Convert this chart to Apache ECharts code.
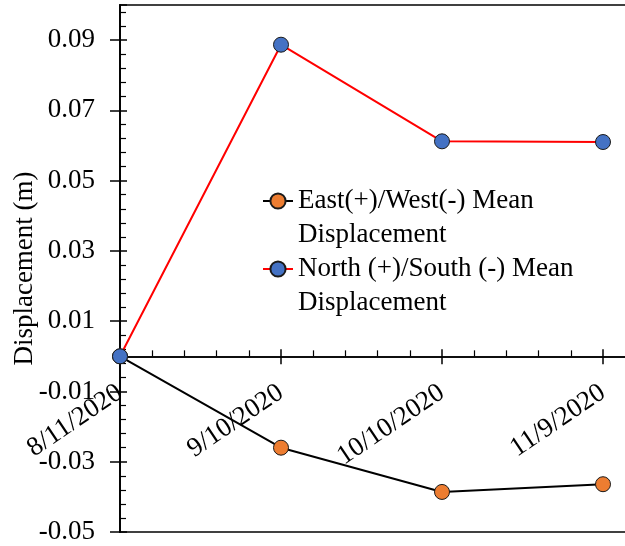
<!DOCTYPE html>
<html>
<head>
<meta charset="utf-8">
<script src="https://cdn.jsdelivr.net/npm/echarts@6/dist/echarts.min.js"></script>
<style>
  html, body { margin: 0; padding: 0; background: #fff; }
  #chart { width: 625px; height: 546px; }
</style>
</head>
<body>
<div id="chart"></div>
<script>
// Survey dates and mean displacements (m)
const dates = ['8/11/2020', '9/10/2020', '10/10/2020', '11/9/2020'];
const eastWest = [0, -0.026, -0.0386, -0.0364];
const northSouth = [0, 0.0887, 0.0612, 0.0610];
const seriesNames = [
  'East(+)/West(-) Mean\nDisplacement',
  'North (+)/South (-) Mean\nDisplacement'
];
const yTitle = 'Displacement (m)';

// Days elapsed since the first survey, used as the x position of each date
function parseDate(s) {
  const [m, d, y] = s.split('/').map(Number);
  return Date.UTC(y, m - 1, d);
}
const t0 = parseDate(dates[0]);
const dayOffsets = dates.map(s => Math.round((parseDate(s) - t0) / 86400000));
const labelFor = {};
dayOffsets.forEach((d, i) => { labelFor[d] = dates[i]; });

const FONT = 'Liberation Serif';
const FS = 27;
const LH = 34;
const Y_MIN = -0.05;

const chart = echarts.init(document.getElementById('chart'));

const xCommon = {
  type: 'value',
  min: 0,
  max: 120,
  interval: 30,
  position: 'bottom',
  splitLine: { show: false }
};
const yCommon = {
  type: 'value',
  min: Y_MIN,
  max: 0.1,
  interval: 0.02,
  position: 'left',
  splitLine: { show: false },
  axisLine: { onZero: false, lineStyle: { color: '#000', width: 1.5 } }
};

const legendCommon = {
  left: 262,
  padding: 0,
  itemWidth: 30,
  itemHeight: 19,
  // leading blank line keeps the marker level with the first text line
  formatter: n => '\n' + n,
  textStyle: { fontFamily: FONT, fontSize: FS, color: '#000', lineHeight: LH }
};

chart.setOption({
  animation: false,
  backgroundColor: '#fff',
  grid: {
    left: 120,
    right: -139,
    top: 5,
    bottom: 14,
    containLabel: false,
    outerBoundsMode: 'none',
    show: true,
    borderColor: '#404040',
    borderWidth: 2,
    backgroundColor: 'transparent'
  },
  legend: [
    Object.assign({}, legendCommon, { data: [seriesNames[0]], top: 150 }),
    Object.assign({}, legendCommon, { data: [seriesNames[1]], top: 218 })
  ],
  xAxis: [
    // axis line through y = 0 with outward major ticks
    Object.assign({}, xCommon, {
      axisLine: { onZero: true, onZeroAxisIndex: 0, lineStyle: { color: '#000', width: 1.5 } },
      axisTick: { show: true, inside: false, length: 8, lineStyle: { color: '#000', width: 1.5 } },
      minorTick: { show: false },
      axisLabel: { show: false }
    }),
    // inward major + minor ticks on the same line
    Object.assign({}, xCommon, {
      axisLine: { onZero: true, onZeroAxisIndex: 0, lineStyle: { color: '#000', width: 1.5 } },
      axisTick: { show: true, inside: true, length: 7, lineStyle: { color: '#000', width: 1.5 } },
      minorTick: { show: true, splitNumber: 5, length: 6, lineStyle: { color: '#000', width: 1.2 } },
      axisLabel: { show: false }
    }),
    // date labels, moved up to the y = 0 line once the scale is known
    Object.assign({}, xCommon, {
      axisLine: { show: false, onZero: false },
      axisTick: { show: false },
      minorTick: { show: false },
      axisLabel: {
        rotate: 34,
        margin: 34,
        fontFamily: FONT,
        fontSize: FS,
        color: '#000',
        showMaxLabel: false,
        formatter: v => labelFor[v] || ''
      }
    })
  ],
  yAxis: [
    Object.assign({}, yCommon, {
      name: yTitle,
      nameLocation: 'middle',
      nameGap: 82,
      nameMoveOverlap: false,
      nameTextStyle: { fontFamily: FONT, fontSize: FS, color: '#000' },
      axisTick: { show: true, inside: false, length: 10, lineStyle: { color: '#000', width: 1.5 } },
      minorTick: { show: false },
      axisLabel: {
        margin: 25,
        fontFamily: FONT,
        fontSize: FS,
        color: '#000',
        showMaxLabel: false,
        formatter: v => v.toFixed(2)
      }
    }),
    Object.assign({}, yCommon, {
      axisTick: { show: true, inside: true, length: 7, lineStyle: { color: '#000', width: 1.5 } },
      minorTick: { show: true, splitNumber: 5, length: 6, lineStyle: { color: '#000', width: 1.2 } },
      axisLabel: { show: false }
    })
  ],
  series: [
    {
      name: seriesNames[0],
      type: 'line',
      xAxisIndex: 0,
      yAxisIndex: 0,
      data: dayOffsets.map((d, i) => [d, eastWest[i]]),
      symbol: 'circle',
      symbolSize: 15,
      lineStyle: { color: '#000', width: 2 },
      itemStyle: { color: '#ED7D31', borderColor: '#1a1a1a', borderWidth: 1 }
    },
    {
      name: seriesNames[1],
      type: 'line',
      xAxisIndex: 0,
      yAxisIndex: 0,
      data: dayOffsets.map((d, i) => [d, northSouth[i]]),
      symbol: 'circle',
      symbolSize: 15,
      lineStyle: { color: '#FF0000', width: 2 },
      itemStyle: { color: '#4472C4', borderColor: '#1a1a1a', borderWidth: 1 }
    }
  ]
});

// Lift the label axis from the bottom edge to the zero line
const zeroY = chart.convertToPixel({ yAxisIndex: 0 }, 0);
const bottomY = chart.convertToPixel({ yAxisIndex: 0 }, Y_MIN);
chart.setOption({ xAxis: [{}, {}, { offset: zeroY - bottomY }] });
</script>
</body>
</html>
